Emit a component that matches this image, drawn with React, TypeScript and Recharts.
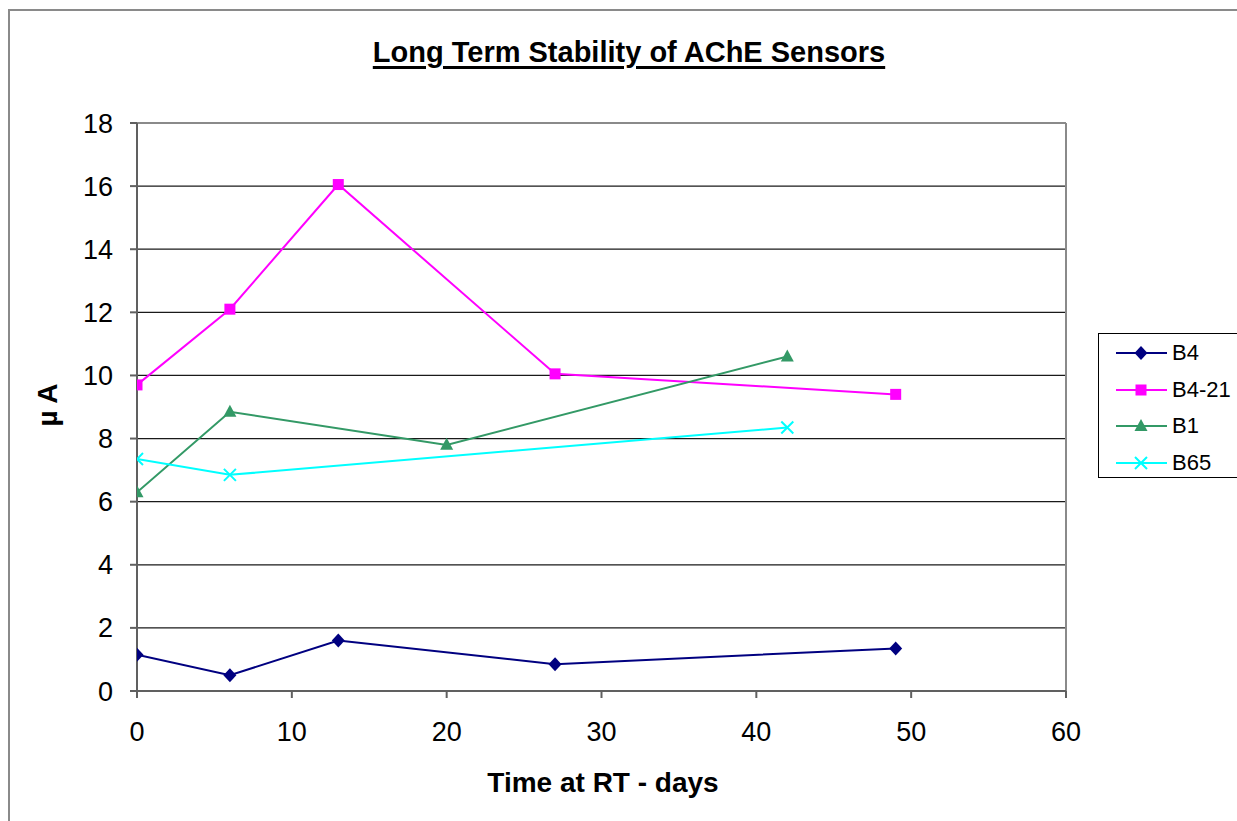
import React from 'react';
import {
  LineChart,
  Line,
  XAxis,
  YAxis,
  CartesianGrid,
  Legend,
  ReferenceLine,
} from 'recharts';

const b4Days = [0, 6, 13, 27, 49];
const b4Values = [1.15, 0.5, 1.6, 0.85, 1.35];
const b421Days = [0, 6, 13, 27, 49];
const b421Values = [9.7, 12.1, 16.05, 10.05, 9.4];
const b1Days = [0, 6, 20, 42];
const b1Values = [6.3, 8.85, 7.8, 10.6];
const b65Days = [0, 6, 42];
const b65Values = [7.35, 6.85, 8.35];

const xTicks = [0, 10, 20, 30, 40, 50, 60];
const yTicks = [0, 2, 4, 6, 8, 10, 12, 14, 16, 18];

const toPoints = (days: number[], vals: number[]) =>
  days.map((d, i) => ({ day: d, value: vals[i] }));

const series = [
  { name: 'B4', color: '#000080', shape: 'diamond', data: toPoints(b4Days, b4Values) },
  { name: 'B4-21', color: '#FF00FF', shape: 'square', data: toPoints(b421Days, b421Values) },
  { name: 'B1', color: '#339966', shape: 'triangle', data: toPoints(b1Days, b1Values) },
  { name: 'B65', color: '#00FFFF', shape: 'cross', data: toPoints(b65Days, b65Values) },
];

const FONT = '"Liberation Sans", Arial, sans-serif';

const Marker = ({ shape, color, cx, cy }: any) => {
  if (shape === 'diamond') {
    return <path d={`M${cx},${cy - 7}L${cx + 6.5},${cy}L${cx},${cy + 7}L${cx - 6.5},${cy}Z`} fill={color} />;
  }
  if (shape === 'square') {
    return <rect x={cx - 5.5} y={cy - 5.5} width={11} height={11} fill={color} />;
  }
  if (shape === 'triangle') {
    return <path d={`M${cx},${cy - 7}L${cx + 6.5},${cy + 5}L${cx - 6.5},${cy + 5}Z`} fill={color} />;
  }
  return (
    <path
      d={`M${cx - 6},${cy - 6}L${cx + 6},${cy + 6}M${cx - 6},${cy + 6}L${cx + 6},${cy - 6}`}
      stroke={color}
      strokeWidth={2}
      fill="none"
    />
  );
};

const makeDot = (shape: string, color: string) => (props: any) => {
  const { cx, cy, index } = props;
  if (cx == null || cy == null) return <g key={index} />;
  return (
    <g key={index}>
      <Marker shape={shape} color={color} cx={cx} cy={cy} />
    </g>
  );
};

const LegendBox = () => (
  <div
    style={{
      width: 150,
      height: 145,
      border: '1px solid #000',
      background: '#fff',
      fontFamily: FONT,
      fontSize: 22,
      boxSizing: 'border-box',
      paddingTop: 1,
    }}
  >
    {series.map((s) => (
      <div key={s.name} style={{ display: 'flex', alignItems: 'center', height: 36.5 }}>
        <svg width={70} height={20} style={{ flex: 'none' }}>
          <line x1={17} y1={10} x2={68} y2={10} stroke={s.color} strokeWidth={2} />
          <Marker shape={s.shape} color={s.color} cx={42} cy={10} />
        </svg>
        <span style={{ marginLeft: 3, color: '#000' }}>{s.name}</span>
      </div>
    ))}
  </div>
);

export default function App() {
  return (
    <div style={{ position: 'relative', width: 1237, height: 821, overflow: 'hidden', background: '#fff' }}>
      <style>{'body{margin:0;overflow:hidden}'}</style>
      <div
        style={{
          position: 'absolute',
          left: 8,
          top: 9,
          width: 1300,
          height: 900,
          borderLeft: '2px solid #8a8a8a',
          borderTop: '2px solid #8a8a8a',
        }}
      />
      <div
        style={{
          position: 'absolute',
          left: 0,
          top: 38,
          width: 1258,
          textAlign: 'center',
          fontFamily: FONT,
          fontWeight: 'bold',
          fontSize: 29,
          lineHeight: 1,
          textDecoration: 'underline',
          textDecorationThickness: 3,
          textUnderlineOffset: 4,
          color: '#000',
        }}
      >
        Long Term Stability of AChE Sensors
      </div>
      <div style={{ position: 'absolute', left: 0, top: 0 }}>
        <LineChart width={1237} height={821} margin={{ top: 123, right: 171, bottom: 70, left: 67 }}>
          <CartesianGrid vertical={false} stroke="#1a1a1a" strokeWidth={1.3} />
          <XAxis
            type="number"
            dataKey="day"
            domain={[0, 60]}
            ticks={xTicks}
            allowDataOverflow
            height={60}
            stroke="#606060"
            strokeWidth={2}
            tickSize={7}
            tickMargin={24}
            tick={{ fill: '#000', fontSize: 27, fontFamily: FONT }}
          />
          <YAxis
            type="number"
            domain={[0, 18]}
            ticks={yTicks}
            allowDataOverflow
            width={70}
            stroke="#606060"
            strokeWidth={2}
            tickSize={7}
            tickMargin={17}
            tick={{ fill: '#000', fontSize: 27, fontFamily: FONT }}
          />
          <ReferenceLine y={18} stroke="#8a8a8a" strokeWidth={2} />
          <ReferenceLine x={60} stroke="#8a8a8a" strokeWidth={2} />
          {series.map((s) => (
            <Line
              key={s.name}
              data={s.data}
              dataKey="value"
              name={s.name}
              stroke={s.color}
              strokeWidth={2}
              dot={makeDot(s.shape, s.color)}
              activeDot={false}
              isAnimationActive={false}
            />
          ))}
          <Legend
            layout="horizontal"
            verticalAlign="middle"
            align="center"
            content={() => <LegendBox />}
            wrapperStyle={{ left: 1098, top: 333, width: 150, height: 145 }}
          />
        </LineChart>
      </div>
      <div
        style={{
          position: 'absolute',
          left: 403,
          width: 400,
          top: 769,
          textAlign: 'center',
          fontFamily: FONT,
          fontWeight: 'bold',
          fontSize: 28,
          lineHeight: 1,
          color: '#000',
        }}
      >
        Time at RT - days
      </div>
      <div
        style={{
          position: 'absolute',
          left: 48,
          top: 405,
          transform: 'translate(-50%, -50%) rotate(-90deg)',
          fontFamily: FONT,
          fontWeight: 'bold',
          fontSize: 28,
          lineHeight: 1,
          color: '#000',
          whiteSpace: 'nowrap',
        }}
      >
        µ A
      </div>
    </div>
  );
}
